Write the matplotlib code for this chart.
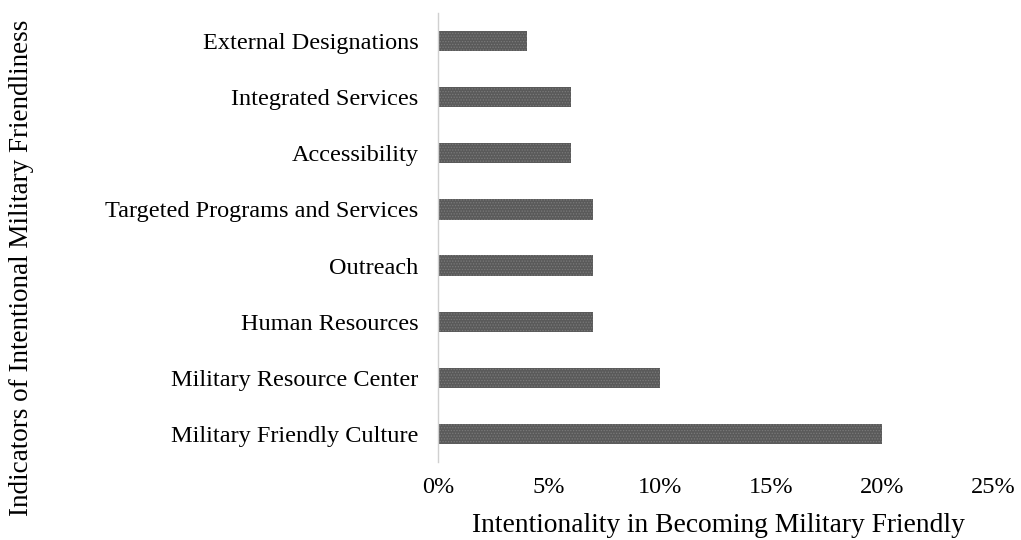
import matplotlib
matplotlib.use("Agg")
import matplotlib.pyplot as plt
from matplotlib.ticker import FuncFormatter

categories = ["Military Friendly Culture", "Military Resource Center", "Human Resources",
              "Outreach", "Targeted Programs and Services", "Accessibility",
              "Integrated Services", "External Designations"]
values = [20, 10, 7, 7, 7, 6, 6, 4]
xticks = [0, 5, 10, 15, 20, 25]

plt.rcParams['font.family'] = ['Liberation Serif', 'DejaVu Serif']
plt.rcParams['hatch.color'] = '#7a7a7a'
plt.rcParams['hatch.linewidth'] = 0.6

fig = plt.figure(figsize=(10.21, 5.40), dpi=100)
ax = fig.add_axes([438/1021, 1-462/540, (993-438)/1021, (462-13)/540])

ax.barh(range(len(categories)), values, height=0.36, color='#5a5a5a',
        hatch='......', edgecolor='#7a7a7a', linewidth=0)
ax.set_ylim(-0.5, len(categories) - 0.5)
ax.set_xlim(0, 25)
ax.set_xticks(xticks)
ax.xaxis.set_major_formatter(FuncFormatter(lambda v, p: f"{int(v)}%"))
ax.set_yticks(range(len(categories)))
ax.set_yticklabels(categories)
ax.tick_params(axis='both', length=0, labelsize=17.5)
ax.tick_params(axis='y', pad=14)
ax.tick_params(axis='x', pad=11)
for s in ['top', 'right', 'bottom']:
    ax.spines[s].set_visible(False)
ax.spines['left'].set_color('#d0d0d0')
ax.spines['left'].set_linewidth(1.0)

fig.text(718/1021, 1-525/540, "Intentionality in Becoming Military Friendly",
         fontsize=19.8, ha='center', va='center')
fig.text(22/1021, 1-268/540, "Indicators of Intentional Military Friendliness", rotation=90,
         fontsize=19.5, va='center', ha='center')

fig.savefig("out.png", dpi=100)
